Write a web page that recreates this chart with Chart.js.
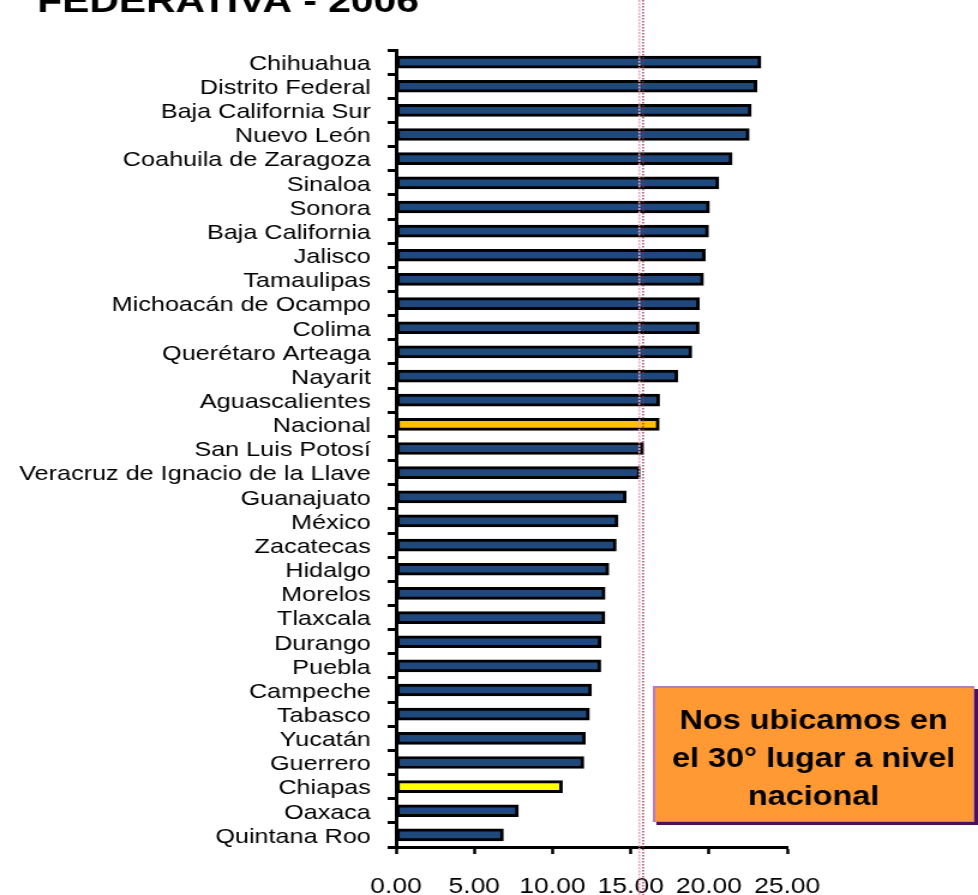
<!DOCTYPE html>
<html lang="es">
<head>
<meta charset="utf-8">
<title>Entidad federativa 2006</title>
<script src="https://cdn.jsdelivr.net/npm/chart.js@4.4.1/dist/chart.umd.min.js"></script>
<style>
  html, body { margin: 0; padding: 0; background: #fff; overflow: hidden; }
  /* el grafico se dibuja angosto y se estira a lo ancho */
  #contenedor { width: 815px; height: 895px; transform: scaleX(1.2); transform-origin: 0 0; }
</style>
</head>
<body>
<div id="contenedor">
  <canvas id="graficaEntidades" width="815" height="895"></canvas>
</div>
<script>
// Entidades ordenadas de mayor a menor
const entidades = [
  "Chihuahua", "Distrito Federal", "Baja California Sur", "Nuevo León",
  "Coahuila de Zaragoza", "Sinaloa", "Sonora", "Baja California", "Jalisco",
  "Tamaulipas", "Michoacán de Ocampo", "Colima", "Querétaro Arteaga", "Nayarit",
  "Aguascalientes", "Nacional", "San Luis Potosí", "Veracruz de Ignacio de la Llave",
  "Guanajuato", "México", "Zacatecas", "Hidalgo", "Morelos", "Tlaxcala", "Durango",
  "Puebla", "Campeche", "Tabasco", "Yucatán", "Guerrero", "Chiapas", "Oaxaca",
  "Quintana Roo"
];
const valores = [
  23.32, 23.06, 22.70, 22.57, 21.48, 20.63, 20.03, 19.97, 19.76, 19.65, 19.39,
  19.37, 18.90, 18.01, 16.84, 16.82, 15.82, 15.60, 14.71, 14.19, 14.07, 13.60,
  13.36, 13.35, 13.10, 13.08, 12.49, 12.36, 12.10, 12.00, 10.63, 7.82, 6.86
];
const ticksX = [0, 5, 10, 15, 20, 25];
const lineaReferencia = 15.67;
const tituloVisible = "FEDERATIVA - 2006";
const textoRecuadro = ["Nos ubicamos en", "el 30° lugar a nivel", "nacional"];

// Colores: Nacional en dorado, Chiapas en amarillo
const colores = entidades.map((e) =>
  e === "Nacional" ? "#FFC000" : e === "Chiapas" ? "#FFFF00" : "#1F497D"
);

const fuente = "'Liberation Sans', Arial, sans-serif";

const extras = {
  id: "extras",
  afterDatasetsDraw(chart) {
    const { ctx, scales } = chart;
    const px = scales.x.getPixelForValue(lineaReferencia);
    ctx.save();
    // linea doble punteada
    ctx.lineWidth = 1.6;
    ctx.strokeStyle = "#E8A6B8";
    ctx.setLineDash([2, 1.2]);
    ctx.beginPath();
    ctx.moveTo(px - 1.6, 0);
    ctx.lineTo(px - 1.6, chart.height);
    ctx.stroke();
    ctx.strokeStyle = "#A3284A";
    ctx.lineWidth = 1.3;
    ctx.setLineDash([1.5, 1.5]);
    ctx.beginPath();
    ctx.moveTo(px + 1.6, 0);
    ctx.lineTo(px + 1.6, chart.height);
    ctx.stroke();
    ctx.restore();
  },
  afterDraw(chart) {
    const { ctx } = chart;
    ctx.save();
    // titulo (cortado arriba)
    ctx.fillStyle = "#000";
    ctx.font = "bold 34px " + fuente;
    ctx.textAlign = "left";
    ctx.textBaseline = "alphabetic";
    ctx.fillText(tituloVisible, 31, 12);

    // recuadro naranja con sombra
    const bx = 544, by = 686, bw = 268, bh = 136;
    ctx.fillStyle = "#4E0F55";
    ctx.fillRect(bx + 3, by + 3, bw, bh);
    ctx.fillStyle = "#B57AC4";
    ctx.fillRect(bx, by, bw, bh);
    ctx.fillStyle = "#FF9933";
    ctx.fillRect(bx + 2, by + 2, bw - 3, bh - 3);

    ctx.fillStyle = "#000";
    ctx.font = "bold 27px " + fuente;
    ctx.textAlign = "center";
    ctx.textBaseline = "middle";
    textoRecuadro.forEach((linea, i) => {
      ctx.fillText(linea, bx + bw / 2, by + 36 + i * 38);
    });
    ctx.restore();
  },
};

new Chart(document.getElementById("graficaEntidades"), {
  type: "bar",
  data: {
    labels: entidades,
    datasets: [
      {
        data: valores,
        backgroundColor: colores,
        borderColor: "#000",
        borderWidth: 3,
        borderSkipped: false,
        barThickness: 12,
      },
    ],
  },
  options: {
    indexAxis: "y",
    responsive: false,
    animation: false,
    layout: { padding: { top: 50, right: 159, left: 0, bottom: 0 } },
    plugins: {
      legend: { display: false },
      tooltip: { enabled: false },
    },
    scales: {
      x: {
        min: 0,
        max: 25,
        afterBuildTicks: (scale) => {
          scale.ticks = ticksX.map((v) => ({ value: v }));
        },
        afterFit: (scale) => {
          scale.height = 48;
        },
        border: { display: true, color: "#000", width: 3 },
        grid: {
          drawOnChartArea: false,
          drawTicks: true,
          tickLength: 7,
          tickWidth: 2.5,
          tickColor: "#000",
        },
        ticks: {
          color: "#000",
          padding: 20,
          font: { family: fuente, size: 22 },
          callback: (v) => Number(v).toFixed(2),
        },
      },
      y: {
        afterFit: (scale) => {
          scale.width = 330;
        },
        border: { display: true, color: "#000", width: 3 },
        grid: {
          offset: true,
          drawOnChartArea: false,
          drawTicks: true,
          tickLength: 7,
          tickWidth: 3,
          tickColor: "#000",
        },
        ticks: {
          color: "#000",
          padding: 14,
          labelOffset: 2,
          autoSkip: false,
          font: { family: fuente, size: 21 },
        },
      },
    },
  },
  plugins: [extras],
});
</script>
</body>
</html>
